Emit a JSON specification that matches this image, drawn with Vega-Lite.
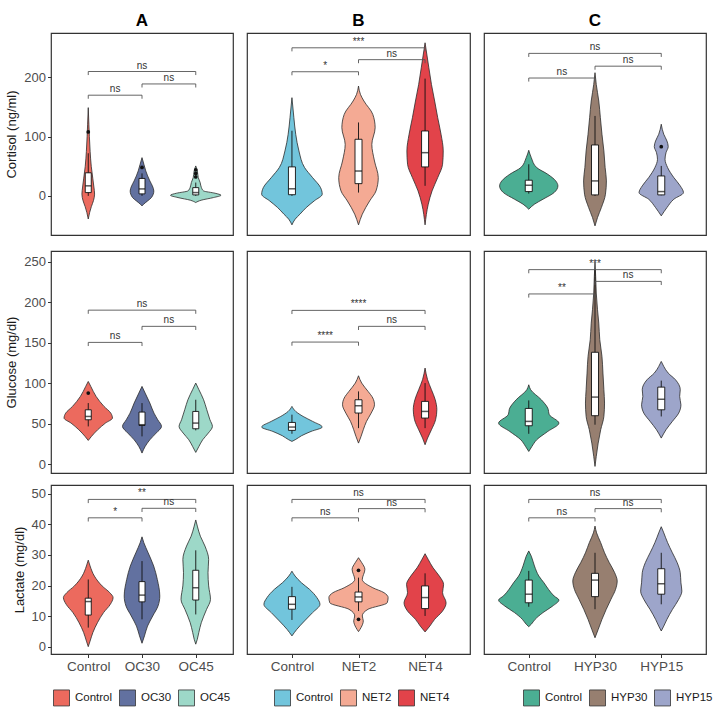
{
"$schema": "https://vega.github.io/schema/vega-lite/v6.json",
"padding": {"left": 5, "top": 11, "right": 0, "bottom": 0},
"config": {
  "font": "Liberation Sans",
  "view": {"stroke": "#333", "strokeWidth": 1.2},
  "axis": {"grid": false, "domain": false, "tickColor": "#333", "tickSize": 3.5, "labelColor": "#4d4d4d", "labelFontSize": 13, "titleFontSize": 13, "titleFontWeight": "normal", "titleColor": "#1a1a1a", "labelPadding": 2, "titlePadding": 5, "labelOverlap": false}
},
"datasets": {
  "grp": [
    {"g": "Control", "i": 1}, {"g": "OC30", "i": 2}, {"g": "OC45", "i": 3},
    {"g": "NET2", "i": 2}, {"g": "NET4", "i": 3}, {"g": "HYP30", "i": 2}, {"g": "HYP15", "i": 3}
  ],
  "vio": [
    {"p":"A1","g":"Control","v":149,"w":0},{"p":"A1","g":"Control","v":120,"w":0.012},{"p":"A1","g":"Control","v":100,"w":0.021},{"p":"A1","g":"Control","v":75,"w":0.035},{"p":"A1","g":"Control","v":50,"w":0.056},{"p":"A1","g":"Control","v":30,"w":0.084},{"p":"A1","g":"Control","v":15,"w":0.105},{"p":"A1","g":"Control","v":3,"w":0.118},{"p":"A1","g":"Control","v":-8,"w":0.097},{"p":"A1","g":"Control","v":-18,"w":0.058},{"p":"A1","g":"Control","v":-28,"w":0.026},{"p":"A1","g":"Control","v":-39,"w":0},
    {"p":"A1","g":"OC30","v":64.6,"w":0},{"p":"A1","g":"OC30","v":53.4,"w":0.035},{"p":"A1","g":"OC30","v":42.2,"w":0.07},{"p":"A1","g":"OC30","v":25.3,"w":0.146},{"p":"A1","g":"OC30","v":16.9,"w":0.193},{"p":"A1","g":"OC30","v":8.4,"w":0.22},{"p":"A1","g":"OC30","v":-2.8,"w":0.176},{"p":"A1","g":"OC30","v":-8.4,"w":0.105},{"p":"A1","g":"OC30","v":-14,"w":0.03},{"p":"A1","g":"OC30","v":-16.9,"w":0},
    {"p":"A1","g":"OC45","v":50.6,"w":0},{"p":"A1","g":"OC45","v":42,"w":0.03},{"p":"A1","g":"OC45","v":30.9,"w":0.047},{"p":"A1","g":"OC45","v":22.5,"w":0.082},{"p":"A1","g":"OC45","v":14,"w":0.105},{"p":"A1","g":"OC45","v":8.4,"w":0.146},{"p":"A1","g":"OC45","v":4.5,"w":0.36},{"p":"A1","g":"OC45","v":1.1,"w":0.47},{"p":"A1","g":"OC45","v":-2.8,"w":0.33},{"p":"A1","g":"OC45","v":-7.3,"w":0.1},{"p":"A1","g":"OC45","v":-11.2,"w":0},
    {"p":"B1","g":"Control","v":165.8,"w":0},{"p":"B1","g":"Control","v":132,"w":0.029},{"p":"B1","g":"Control","v":104,"w":0.057},{"p":"B1","g":"Control","v":75.9,"w":0.105},{"p":"B1","g":"Control","v":47.8,"w":0.19},{"p":"B1","g":"Control","v":30.9,"w":0.31},{"p":"B1","g":"Control","v":14,"w":0.43},{"p":"B1","g":"Control","v":2.8,"w":0.455},{"p":"B1","g":"Control","v":-8.4,"w":0.335},{"p":"B1","g":"Control","v":-19.7,"w":0.215},{"p":"B1","g":"Control","v":-30.9,"w":0.12},{"p":"B1","g":"Control","v":-39.3,"w":0.048},{"p":"B1","g":"Control","v":-48.9,"w":0},
    {"p":"B1","g":"NET2","v":185.5,"w":0},{"p":"B1","g":"NET2","v":171.4,"w":0.029},{"p":"B1","g":"NET2","v":160.2,"w":0.081},{"p":"B1","g":"NET2","v":137.6,"w":0.215},{"p":"B1","g":"NET2","v":115.1,"w":0.25},{"p":"B1","g":"NET2","v":87,"w":0.2},{"p":"B1","g":"NET2","v":58.9,"w":0.24},{"p":"B1","g":"NET2","v":30.9,"w":0.297},{"p":"B1","g":"NET2","v":8.4,"w":0.263},{"p":"B1","g":"NET2","v":-8.4,"w":0.168},{"p":"B1","g":"NET2","v":-30.9,"w":0.057},{"p":"B1","g":"NET2","v":-48.9,"w":0},
    {"p":"B1","g":"NET4","v":258.5,"w":0},{"p":"B1","g":"NET4","v":216.3,"w":0.057},{"p":"B1","g":"NET4","v":188.2,"w":0.096},{"p":"B1","g":"NET4","v":160.2,"w":0.144},{"p":"B1","g":"NET4","v":132,"w":0.19},{"p":"B1","g":"NET4","v":104,"w":0.24},{"p":"B1","g":"NET4","v":75.9,"w":0.273},{"p":"B1","g":"NET4","v":53.4,"w":0.263},{"p":"B1","g":"NET4","v":30.9,"w":0.19},{"p":"B1","g":"NET4","v":8.4,"w":0.105},{"p":"B1","g":"NET4","v":-14,"w":0.048},{"p":"B1","g":"NET4","v":-48.9,"w":0},
    {"p":"C1","g":"Control","v":77,"w":0},{"p":"C1","g":"Control","v":64.6,"w":0.038},{"p":"C1","g":"Control","v":47.8,"w":0.12},{"p":"C1","g":"Control","v":36.5,"w":0.287},{"p":"C1","g":"Control","v":25.3,"w":0.407},{"p":"C1","g":"Control","v":16.9,"w":0.44},{"p":"C1","g":"Control","v":5.6,"w":0.383},{"p":"C1","g":"Control","v":-5.6,"w":0.215},{"p":"C1","g":"Control","v":-14,"w":0.086},{"p":"C1","g":"Control","v":-22.5,"w":0},
    {"p":"C1","g":"HYP30","v":208,"w":0},{"p":"C1","g":"HYP30","v":188.2,"w":0.019},{"p":"C1","g":"HYP30","v":160.2,"w":0.057},{"p":"C1","g":"HYP30","v":132,"w":0.081},{"p":"C1","g":"HYP30","v":104,"w":0.105},{"p":"C1","g":"HYP30","v":75.9,"w":0.134},{"p":"C1","g":"HYP30","v":47.8,"w":0.153},{"p":"C1","g":"HYP30","v":25.3,"w":0.172},{"p":"C1","g":"HYP30","v":2.8,"w":0.158},{"p":"C1","g":"HYP30","v":-19.7,"w":0.096},{"p":"C1","g":"HYP30","v":-36.5,"w":0.038},{"p":"C1","g":"HYP30","v":-50.6,"w":0},
    {"p":"C1","g":"HYP15","v":121,"w":0},{"p":"C1","g":"HYP15","v":104,"w":0.038},{"p":"C1","g":"HYP15","v":92.7,"w":0.086},{"p":"C1","g":"HYP15","v":83.2,"w":0.105},{"p":"C1","g":"HYP15","v":73,"w":0.072},{"p":"C1","g":"HYP15","v":61.8,"w":0.057},{"p":"C1","g":"HYP15","v":47.8,"w":0.096},{"p":"C1","g":"HYP15","v":30.9,"w":0.19},{"p":"C1","g":"HYP15","v":16.9,"w":0.287},{"p":"C1","g":"HYP15","v":5.6,"w":0.335},{"p":"C1","g":"HYP15","v":-5.6,"w":0.19},{"p":"C1","g":"HYP15","v":-19.7,"w":0.086},{"p":"C1","g":"HYP15","v":-33.7,"w":0},
    {"p":"A2","g":"Control","v":102,"w":0},{"p":"A2","g":"Control","v":95.9,"w":0.047},{"p":"A2","g":"Control","v":83.5,"w":0.146},{"p":"A2","g":"Control","v":71.2,"w":0.293},{"p":"A2","g":"Control","v":62.9,"w":0.42},{"p":"A2","g":"Control","v":56.8,"w":0.45},{"p":"A2","g":"Control","v":50.6,"w":0.32},{"p":"A2","g":"Control","v":42.4,"w":0.176},{"p":"A2","g":"Control","v":34.1,"w":0.059},{"p":"A2","g":"Control","v":29.2,"w":0},
    {"p":"A2","g":"OC30","v":95.9,"w":0},{"p":"A2","g":"OC30","v":87.6,"w":0.059},{"p":"A2","g":"OC30","v":75.3,"w":0.146},{"p":"A2","g":"OC30","v":62.9,"w":0.223},{"p":"A2","g":"OC30","v":54.7,"w":0.293},{"p":"A2","g":"OC30","v":46.5,"w":0.363},{"p":"A2","g":"OC30","v":38.3,"w":0.264},{"p":"A2","g":"OC30","v":30,"w":0.146},{"p":"A2","g":"OC30","v":21.8,"w":0.059},{"p":"A2","g":"OC30","v":13.6,"w":0},
    {"p":"A2","g":"OC45","v":100,"w":0},{"p":"A2","g":"OC45","v":91.8,"w":0.059},{"p":"A2","g":"OC45","v":79.4,"w":0.146},{"p":"A2","g":"OC45","v":67.1,"w":0.205},{"p":"A2","g":"OC45","v":54.7,"w":0.264},{"p":"A2","g":"OC45","v":46.5,"w":0.31},{"p":"A2","g":"OC45","v":38.3,"w":0.234},{"p":"A2","g":"OC45","v":30,"w":0.129},{"p":"A2","g":"OC45","v":21.8,"w":0.059},{"p":"A2","g":"OC45","v":14.4,"w":0},
    {"p":"B2","g":"Control","v":71.2,"w":0},{"p":"B2","g":"Control","v":65,"w":0.057},{"p":"B2","g":"Control","v":58.8,"w":0.168},{"p":"B2","g":"Control","v":52.7,"w":0.311},{"p":"B2","g":"Control","v":45.7,"w":0.455},{"p":"B2","g":"Control","v":40.3,"w":0.287},{"p":"B2","g":"Control","v":35,"w":0.144},{"p":"B2","g":"Control","v":30,"w":0.048},{"p":"B2","g":"Control","v":28,"w":0},
    {"p":"B2","g":"NET2","v":109,"w":0},{"p":"B2","g":"NET2","v":100,"w":0.048},{"p":"B2","g":"NET2","v":89.7,"w":0.144},{"p":"B2","g":"NET2","v":81.5,"w":0.215},{"p":"B2","g":"NET2","v":73.2,"w":0.24},{"p":"B2","g":"NET2","v":62.9,"w":0.19},{"p":"B2","g":"NET2","v":52.7,"w":0.12},{"p":"B2","g":"NET2","v":42.4,"w":0.072},{"p":"B2","g":"NET2","v":34.1,"w":0.038},{"p":"B2","g":"NET2","v":25.9,"w":0},
    {"p":"B2","g":"NET4","v":118.5,"w":0},{"p":"B2","g":"NET4","v":104.1,"w":0.038},{"p":"B2","g":"NET4","v":91.8,"w":0.096},{"p":"B2","g":"NET4","v":79.4,"w":0.153},{"p":"B2","g":"NET4","v":67.1,"w":0.177},{"p":"B2","g":"NET4","v":54.7,"w":0.158},{"p":"B2","g":"NET4","v":42.4,"w":0.096},{"p":"B2","g":"NET4","v":32.1,"w":0.038},{"p":"B2","g":"NET4","v":23.9,"w":0},
    {"p":"C2","g":"Control","v":97.9,"w":0},{"p":"C2","g":"Control","v":91.8,"w":0.029},{"p":"C2","g":"Control","v":79.4,"w":0.19},{"p":"C2","g":"Control","v":69.1,"w":0.287},{"p":"C2","g":"Control","v":60.9,"w":0.311},{"p":"C2","g":"Control","v":50.6,"w":0.455},{"p":"C2","g":"Control","v":40.3,"w":0.287},{"p":"C2","g":"Control","v":30,"w":0.12},{"p":"C2","g":"Control","v":21.8,"w":0.048},{"p":"C2","g":"Control","v":15.6,"w":0},
    {"p":"C2","g":"HYP30","v":249,"w":0},{"p":"C2","g":"HYP30","v":231.7,"w":0.01},{"p":"C2","g":"HYP30","v":211.1,"w":0.019},{"p":"C2","g":"HYP30","v":190.5,"w":0.038},{"p":"C2","g":"HYP30","v":174,"w":0.057},{"p":"C2","g":"HYP30","v":153.5,"w":0.072},{"p":"C2","g":"HYP30","v":132.9,"w":0.105},{"p":"C2","g":"HYP30","v":112.3,"w":0.12},{"p":"C2","g":"HYP30","v":91.8,"w":0.134},{"p":"C2","g":"HYP30","v":75.3,"w":0.144},{"p":"C2","g":"HYP30","v":58.8,"w":0.134},{"p":"C2","g":"HYP30","v":42.4,"w":0.086},{"p":"C2","g":"HYP30","v":25.9,"w":0.048},{"p":"C2","g":"HYP30","v":9.5,"w":0.019},{"p":"C2","g":"HYP30","v":-2.9,"w":0},
    {"p":"C2","g":"HYP15","v":126.7,"w":0},{"p":"C2","g":"HYP15","v":120.5,"w":0.038},{"p":"C2","g":"HYP15","v":112.3,"w":0.105},{"p":"C2","g":"HYP15","v":104.1,"w":0.215},{"p":"C2","g":"HYP15","v":91.8,"w":0.287},{"p":"C2","g":"HYP15","v":83.5,"w":0.278},{"p":"C2","g":"HYP15","v":73.2,"w":0.297},{"p":"C2","g":"HYP15","v":62.9,"w":0.263},{"p":"C2","g":"HYP15","v":52.7,"w":0.168},{"p":"C2","g":"HYP15","v":42.4,"w":0.072},{"p":"C2","g":"HYP15","v":32.1,"w":0},
    {"p":"A3","g":"Control","v":28.3,"w":0},{"p":"A3","g":"Control","v":26.4,"w":0.034},{"p":"A3","g":"Control","v":23.1,"w":0.114},{"p":"A3","g":"Control","v":19.9,"w":0.257},{"p":"A3","g":"Control","v":17.7,"w":0.4},{"p":"A3","g":"Control","v":16.1,"w":0.462},{"p":"A3","g":"Control","v":13.9,"w":0.411},{"p":"A3","g":"Control","v":11.2,"w":0.285},{"p":"A3","g":"Control","v":7.9,"w":0.171},{"p":"A3","g":"Control","v":4.7,"w":0.086},{"p":"A3","g":"Control","v":1.9,"w":0.034},{"p":"A3","g":"Control","v":0.1,"w":0},
    {"p":"A3","g":"OC30","v":35.9,"w":0},{"p":"A3","g":"OC30","v":34,"w":0.034},{"p":"A3","g":"OC30","v":30.7,"w":0.114},{"p":"A3","g":"OC30","v":26.4,"w":0.217},{"p":"A3","g":"OC30","v":22,"w":0.285},{"p":"A3","g":"OC30","v":16.6,"w":0.331},{"p":"A3","g":"OC30","v":13.3,"w":0.297},{"p":"A3","g":"OC30","v":10.1,"w":0.2},{"p":"A3","g":"OC30","v":6.8,"w":0.103},{"p":"A3","g":"OC30","v":3.6,"w":0.046},{"p":"A3","g":"OC30","v":1.2,"w":0},
    {"p":"A3","g":"OC45","v":41.4,"w":0},{"p":"A3","g":"OC45","v":39.4,"w":0.029},{"p":"A3","g":"OC45","v":36.1,"w":0.086},{"p":"A3","g":"OC45","v":32.9,"w":0.171},{"p":"A3","g":"OC45","v":28.5,"w":0.24},{"p":"A3","g":"OC45","v":24.2,"w":0.228},{"p":"A3","g":"OC45","v":19.9,"w":0.24},{"p":"A3","g":"OC45","v":15.5,"w":0.274},{"p":"A3","g":"OC45","v":12.2,"w":0.2},{"p":"A3","g":"OC45","v":7.9,"w":0.103},{"p":"A3","g":"OC45","v":4.7,"w":0.057},{"p":"A3","g":"OC45","v":2.5,"w":0.029},{"p":"A3","g":"OC45","v":0.9,"w":0},
    {"p":"B3","g":"Control","v":24.7,"w":0},{"p":"B3","g":"Control","v":23.1,"w":0.048},{"p":"B3","g":"Control","v":20.9,"w":0.144},{"p":"B3","g":"Control","v":18.8,"w":0.263},{"p":"B3","g":"Control","v":16.1,"w":0.374},{"p":"B3","g":"Control","v":13.9,"w":0.421},{"p":"B3","g":"Control","v":11.2,"w":0.311},{"p":"B3","g":"Control","v":8.5,"w":0.19},{"p":"B3","g":"Control","v":5.7,"w":0.072},{"p":"B3","g":"Control","v":3.6,"w":0},
    {"p":"B3","g":"NET2","v":29.1,"w":0},{"p":"B3","g":"NET2","v":27.5,"w":0.048},{"p":"B3","g":"NET2","v":25.3,"w":0.096},{"p":"B3","g":"NET2","v":22,"w":0.057},{"p":"B3","g":"NET2","v":19.3,"w":0.215},{"p":"B3","g":"NET2","v":17.7,"w":0.383},{"p":"B3","g":"NET2","v":16.1,"w":0.445},{"p":"B3","g":"NET2","v":14.4,"w":0.431},{"p":"B3","g":"NET2","v":12.3,"w":0.144},{"p":"B3","g":"NET2","v":10.1,"w":0.057},{"p":"B3","g":"NET2","v":8.5,"w":0.072},{"p":"B3","g":"NET2","v":6.3,"w":0.038},{"p":"B3","g":"NET2","v":5,"w":0},
    {"p":"B3","g":"NET4","v":30.4,"w":0},{"p":"B3","g":"NET4","v":28.5,"w":0.048},{"p":"B3","g":"NET4","v":25.8,"w":0.12},{"p":"B3","g":"NET4","v":23.1,"w":0.215},{"p":"B3","g":"NET4","v":20.4,"w":0.278},{"p":"B3","g":"NET4","v":17.7,"w":0.263},{"p":"B3","g":"NET4","v":14.4,"w":0.316},{"p":"B3","g":"NET4","v":11.7,"w":0.263},{"p":"B3","g":"NET4","v":9,"w":0.144},{"p":"B3","g":"NET4","v":6.8,"w":0.072},{"p":"B3","g":"NET4","v":4.9,"w":0},
    {"p":"C3","g":"Control","v":31.3,"w":0},{"p":"C3","g":"Control","v":29.6,"w":0.038},{"p":"C3","g":"Control","v":26.4,"w":0.086},{"p":"C3","g":"Control","v":23.1,"w":0.153},{"p":"C3","g":"Control","v":20.9,"w":0.23},{"p":"C3","g":"Control","v":18.8,"w":0.297},{"p":"C3","g":"Control","v":16.6,"w":0.383},{"p":"C3","g":"Control","v":15.3,"w":0.455},{"p":"C3","g":"Control","v":13.3,"w":0.359},{"p":"C3","g":"Control","v":11.2,"w":0.215},{"p":"C3","g":"Control","v":9,"w":0.096},{"p":"C3","g":"Control","v":7.4,"w":0.038},{"p":"C3","g":"Control","v":6.6,"w":0},
    {"p":"C3","g":"HYP30","v":39.4,"w":0},{"p":"C3","g":"HYP30","v":37.2,"w":0.024},{"p":"C3","g":"HYP30","v":34,"w":0.086},{"p":"C3","g":"HYP30","v":30.7,"w":0.144},{"p":"C3","g":"HYP30","v":27.5,"w":0.215},{"p":"C3","g":"HYP30","v":24.2,"w":0.297},{"p":"C3","g":"HYP30","v":21.5,"w":0.335},{"p":"C3","g":"HYP30","v":18.8,"w":0.311},{"p":"C3","g":"HYP30","v":15.5,"w":0.24},{"p":"C3","g":"HYP30","v":12.2,"w":0.168},{"p":"C3","g":"HYP30","v":9,"w":0.105},{"p":"C3","g":"HYP30","v":5.7,"w":0.048},{"p":"C3","g":"HYP30","v":3,"w":0},
    {"p":"C3","g":"HYP15","v":39.2,"w":0},{"p":"C3","g":"HYP15","v":37.2,"w":0.038},{"p":"C3","g":"HYP15","v":34,"w":0.096},{"p":"C3","g":"HYP15","v":30.7,"w":0.168},{"p":"C3","g":"HYP15","v":27.5,"w":0.24},{"p":"C3","g":"HYP15","v":24.2,"w":0.287},{"p":"C3","g":"HYP15","v":20.9,"w":0.297},{"p":"C3","g":"HYP15","v":18.2,"w":0.311},{"p":"C3","g":"HYP15","v":15.5,"w":0.263},{"p":"C3","g":"HYP15","v":12.2,"w":0.168},{"p":"C3","g":"HYP15","v":9,"w":0.086},{"p":"C3","g":"HYP15","v":6.8,"w":0.038},{"p":"C3","g":"HYP15","v":5.2,"w":0}
  ],
  "box": [
    {"p":"A1","g":"Control","lo":0,"q1":5.6,"md":17,"q3":39,"hi":72},
    {"p":"A1","g":"OC30","lo":0,"q1":3.4,"md":11.8,"q3":29.5,"hi":38},
    {"p":"A1","g":"OC45","lo":0,"q1":1.7,"md":5.6,"q3":14,"hi":22.5},
    {"p":"B1","g":"Control","lo":0,"q1":2,"md":12,"q3":49,"hi":110},
    {"p":"B1","g":"NET2","lo":5.6,"q1":20.7,"md":42,"q3":95.6,"hi":124},
    {"p":"B1","g":"NET4","lo":17,"q1":48.9,"md":73,"q3":109.6,"hi":198},
    {"p":"C1","g":"Control","lo":3.9,"q1":7.3,"md":18,"q3":26.5,"hi":53.4},
    {"p":"C1","g":"HYP30","lo":0,"q1":1.7,"md":25.3,"q3":86,"hi":135},
    {"p":"C1","g":"HYP15","lo":1,"q1":1.7,"md":7.3,"q3":33.7,"hi":50.6},
    {"p":"A2","g":"Control","lo":46.5,"q1":54.7,"md":58.8,"q3":67,"hi":75.3},
    {"p":"A2","g":"OC30","lo":34.2,"q1":47.7,"md":48.6,"q3":64.2,"hi":75.3},
    {"p":"A2","g":"OC45","lo":41.6,"q1":43.6,"md":50.6,"q3":65,"hi":79.4},
    {"p":"B2","g":"Control","lo":37.4,"q1":41.6,"md":45.7,"q3":51.4,"hi":61},
    {"p":"B2","g":"NET2","lo":44.4,"q1":63,"md":72,"q3":79.4,"hi":89.7},
    {"p":"B2","g":"NET4","lo":44.4,"q1":56.8,"md":65,"q3":77.4,"hi":100},
    {"p":"C2","g":"Control","lo":37.4,"q1":47.3,"md":52.7,"q3":68.7,"hi":78.6},
    {"p":"C2","g":"HYP30","lo":48.6,"q1":59.7,"md":82.7,"q3":138,"hi":240},
    {"p":"C2","g":"HYP15","lo":58.8,"q1":67,"md":80,"q3":95,"hi":103},
    {"p":"A3","g":"Control","lo":6.3,"q1":10.4,"md":14.8,"q3":15.9,"hi":22},
    {"p":"A3","g":"OC30","lo":9,"q1":14.7,"md":16.9,"q3":21.3,"hi":28},
    {"p":"A3","g":"OC45","lo":10.6,"q1":15.3,"md":19.3,"q3":25,"hi":31.5},
    {"p":"B3","g":"Control","lo":8.8,"q1":12.3,"md":13.9,"q3":16.4,"hi":19.6},
    {"p":"B3","g":"NET2","lo":11.7,"q1":14.7,"md":16.3,"q3":17.9,"hi":22.6},
    {"p":"B3","g":"NET4","lo":10.1,"q1":12.5,"md":16.1,"q3":19.9,"hi":24},
    {"p":"C3","g":"Control","lo":13.1,"q1":14.4,"md":17.2,"q3":21.8,"hi":24.8},
    {"p":"C3","g":"HYP30","lo":12.3,"q1":16.4,"md":21.8,"q3":24,"hi":30.7},
    {"p":"C3","g":"HYP15","lo":13.9,"q1":17.2,"md":20.6,"q3":25.5,"hi":30.7}
  ],
  "out": [
    {"p":"A1","g":"Control","v":108},
    {"p":"A1","g":"OC30","v":48},
    {"p":"A1","g":"OC45","v":44},{"p":"A1","g":"OC45","v":38},{"p":"A1","g":"OC45","v":32},
    {"p":"C1","g":"HYP15","v":83},
    {"p":"A2","g":"Control","v":87.6},
    {"p":"B3","g":"NET2","v":25},{"p":"B3","g":"NET2","v":9}
  ],
  "sig": [
    {"p":"A1","a":"Control","b":"OC45","y":210,"t":204,"s":"ns"},
    {"p":"A1","a":"OC30","b":"OC45","y":189,"t":183,"s":"ns"},
    {"p":"A1","a":"Control","b":"OC30","y":170,"t":164,"s":"ns"},
    {"p":"B1","a":"Control","b":"NET4","y":250,"t":244,"s":"***"},
    {"p":"B1","a":"NET2","b":"NET4","y":230,"t":224,"s":"ns"},
    {"p":"B1","a":"Control","b":"NET2","y":209.6,"t":203.6,"s":"*"},
    {"p":"C1","a":"Control","b":"HYP15","y":240.6,"t":234.6,"s":"ns"},
    {"p":"C1","a":"HYP30","b":"HYP15","y":219,"t":213,"s":"ns"},
    {"p":"C1","a":"Control","b":"HYP30","y":199,"t":193,"s":"ns"},
    {"p":"A2","a":"Control","b":"OC45","y":190,"t":185.5,"s":"ns"},
    {"p":"A2","a":"OC30","b":"OC45","y":170,"t":165.5,"s":"ns"},
    {"p":"A2","a":"Control","b":"OC30","y":150.2,"t":145.7,"s":"ns"},
    {"p":"B2","a":"Control","b":"NET4","y":189.7,"t":185.2,"s":"****"},
    {"p":"B2","a":"NET2","b":"NET4","y":170,"t":165.5,"s":"ns"},
    {"p":"B2","a":"Control","b":"NET2","y":150.6,"t":146.1,"s":"****"},
    {"p":"C2","a":"Control","b":"HYP15","y":240,"t":235.5,"s":"***"},
    {"p":"C2","a":"HYP30","b":"HYP15","y":225.5,"t":221,"s":"ns"},
    {"p":"C2","a":"Control","b":"HYP30","y":210,"t":205.5,"s":"**"},
    {"p":"A3","a":"Control","b":"OC45","y":48.1,"t":46.9,"s":"**"},
    {"p":"A3","a":"OC30","b":"OC45","y":45.2,"t":44,"s":"ns"},
    {"p":"A3","a":"Control","b":"OC30","y":42.1,"t":40.9,"s":"*"},
    {"p":"B3","a":"Control","b":"NET4","y":48.1,"t":46.9,"s":"ns"},
    {"p":"B3","a":"NET2","b":"NET4","y":45.1,"t":43.9,"s":"ns"},
    {"p":"B3","a":"Control","b":"NET2","y":42.1,"t":40.9,"s":"ns"},
    {"p":"C3","a":"Control","b":"HYP15","y":48.1,"t":46.9,"s":"ns"},
    {"p":"C3","a":"HYP30","b":"HYP15","y":45.1,"t":43.9,"s":"ns"},
    {"p":"C3","a":"Control","b":"HYP30","y":42.1,"t":40.9,"s":"ns"}
  ]
},
"resolve": {"scale": {"x": "independent", "y": "independent", "color": "independent"}, "axis": {"x": "independent", "y": "independent"}, "legend": {"color": "independent"}},
"spacing": 10,
"vconcat": [
{
"spacing": 14,
"resolve": {"scale": {"x": "independent", "y": "independent", "color": "independent"}, "axis": {"x": "independent", "y": "independent"}, "legend": {"color": "independent"}},
"vconcat": [
{
"spacing": 12,
"resolve": {"scale": {"x": "independent", "y": "independent", "color": "independent"}, "axis": {"x": "independent", "y": "independent"}, "legend": {"color": "independent"}},
"hconcat": [
{
"width": 182, "height": 202,
"title": {"text": "A", "fontSize": 17, "fontWeight": "bold", "color": "#000", "offset": 3},
"layer": [
 {"data": {"name": "vio"}, "transform": [{"filter": "datum.p=='A1'"}, {"lookup": "g", "from": {"data": {"name": "grp"}, "key": "g", "fields": ["i"]}}, {"calculate": "datum.i-datum.w", "as": "lo"}, {"calculate": "datum.i+datum.w", "as": "hi"}],
  "mark": {"type": "area", "orient": "horizontal", "interpolate": "monotone", "stroke": "#2b2b2b", "strokeWidth": 0.8, "opacity": 1},
  "encoding": {
   "y": {"field": "v", "type": "quantitative", "scale": {"domain": [-66, 275], "nice": false, "zero": false}, "axis": {"values": [0, 100, 200], "tickCount": 12, "title": "Cortisol (ng/ml)"}},
   "x": {"field": "lo", "type": "quantitative", "scale": {"domain": [0.4, 3.6], "nice": false, "zero": false}, "axis": null},
   "x2": {"field": "hi"},
   "color": {"field": "g", "type": "nominal", "scale": {"domain": ["Control", "OC30", "OC45"], "range": ["#EC6A5E", "#6271A0", "#9DD8C8"]}, "legend": null}}},
 {"data": {"name": "box"}, "transform": [{"filter": "datum.p=='A1'"}, {"lookup": "g", "from": {"data": {"name": "grp"}, "key": "g", "fields": ["i"]}}],
  "encoding": {"x": {"field": "i", "type": "quantitative"}},
  "layer": [
   {"mark": {"type": "rule", "color": "#111", "strokeWidth": 0.9}, "encoding": {"y": {"field": "lo", "type": "quantitative"}, "y2": {"field": "hi"}}},
   {"mark": {"type": "bar", "orient": "vertical", "size": 6, "fill": "#fff", "stroke": "#111", "strokeWidth": 0.9}, "encoding": {"y": {"field": "q1", "type": "quantitative"}, "y2": {"field": "q3"}}},
   {"mark": {"type": "tick", "orient": "horizontal", "size": 6, "thickness": 1.5, "color": "#111"}, "encoding": {"y": {"field": "md", "type": "quantitative"}}}
  ]},
 {"data": {"name": "out"}, "transform": [{"filter": "datum.p=='A1'"}, {"lookup": "g", "from": {"data": {"name": "grp"}, "key": "g", "fields": ["i"]}}],
  "mark": {"type": "circle", "size": 14, "color": "#111", "opacity": 1},
  "encoding": {"x": {"field": "i", "type": "quantitative"}, "y": {"field": "v", "type": "quantitative"}}},
 {"data": {"name": "sig"}, "transform": [{"filter": "datum.p=='A1'"}, {"lookup": "a", "from": {"data": {"name": "grp"}, "key": "g", "fields": ["i"]}, "as": ["ia"]}, {"lookup": "b", "from": {"data": {"name": "grp"}, "key": "g", "fields": ["i"]}, "as": ["ib"]}, {"calculate": "(datum.ia+datum.ib)/2", "as": "mid"}],
  "encoding": {"y": {"field": "y", "type": "quantitative"}},
  "layer": [
   {"mark": {"type": "rule", "color": "#555", "strokeWidth": 0.9}, "encoding": {"x": {"field": "ia", "type": "quantitative"}, "x2": {"field": "ib"}}},
   {"mark": {"type": "rule", "color": "#555", "strokeWidth": 0.9}, "encoding": {"x": {"field": "ia", "type": "quantitative"}, "y2": {"field": "t"}}},
   {"mark": {"type": "rule", "color": "#555", "strokeWidth": 0.9}, "encoding": {"x": {"field": "ib", "type": "quantitative"}, "y2": {"field": "t"}}},
   {"mark": {"type": "text", "fontSize": 10, "fill": "#333", "baseline": "alphabetic", "dy": -3}, "encoding": {"x": {"field": "mid", "type": "quantitative"}, "text": {"field": "s"}}}
  ]}
]
},
{
"width": 223, "height": 202,
"title": {"text": "B", "fontSize": 17, "fontWeight": "bold", "color": "#000", "offset": 3},
"layer": [
 {"data": {"name": "vio"}, "transform": [{"filter": "datum.p=='B1'"}, {"lookup": "g", "from": {"data": {"name": "grp"}, "key": "g", "fields": ["i"]}}, {"calculate": "datum.i-datum.w", "as": "lo"}, {"calculate": "datum.i+datum.w", "as": "hi"}],
  "mark": {"type": "area", "orient": "horizontal", "interpolate": "monotone", "stroke": "#2b2b2b", "strokeWidth": 0.8, "opacity": 1},
  "encoding": {
   "y": {"field": "v", "type": "quantitative", "scale": {"domain": [-66, 275], "nice": false, "zero": false}, "axis": null},
   "x": {"field": "lo", "type": "quantitative", "scale": {"domain": [0.4, 3.6], "nice": false, "zero": false}, "axis": null},
   "x2": {"field": "hi"},
   "color": {"field": "g", "type": "nominal", "scale": {"domain": ["Control", "NET2", "NET4"], "range": ["#72C5DC", "#F4AA94", "#E2434A"]}, "legend": null}}},
 {"data": {"name": "box"}, "transform": [{"filter": "datum.p=='B1'"}, {"lookup": "g", "from": {"data": {"name": "grp"}, "key": "g", "fields": ["i"]}}],
  "encoding": {"x": {"field": "i", "type": "quantitative"}},
  "layer": [
   {"mark": {"type": "rule", "color": "#111", "strokeWidth": 0.9}, "encoding": {"y": {"field": "lo", "type": "quantitative"}, "y2": {"field": "hi"}}},
   {"mark": {"type": "bar", "orient": "vertical", "size": 7, "fill": "#fff", "stroke": "#111", "strokeWidth": 0.9}, "encoding": {"y": {"field": "q1", "type": "quantitative"}, "y2": {"field": "q3"}}},
   {"mark": {"type": "tick", "orient": "horizontal", "size": 7, "thickness": 1.5, "color": "#111"}, "encoding": {"y": {"field": "md", "type": "quantitative"}}}
  ]},
 {"data": {"name": "out"}, "transform": [{"filter": "datum.p=='B1'"}, {"lookup": "g", "from": {"data": {"name": "grp"}, "key": "g", "fields": ["i"]}}],
  "mark": {"type": "circle", "size": 14, "color": "#111", "opacity": 1},
  "encoding": {"x": {"field": "i", "type": "quantitative"}, "y": {"field": "v", "type": "quantitative"}}},
 {"data": {"name": "sig"}, "transform": [{"filter": "datum.p=='B1'"}, {"lookup": "a", "from": {"data": {"name": "grp"}, "key": "g", "fields": ["i"]}, "as": ["ia"]}, {"lookup": "b", "from": {"data": {"name": "grp"}, "key": "g", "fields": ["i"]}, "as": ["ib"]}, {"calculate": "(datum.ia+datum.ib)/2", "as": "mid"}],
  "encoding": {"y": {"field": "y", "type": "quantitative"}},
  "layer": [
   {"mark": {"type": "rule", "color": "#555", "strokeWidth": 0.9}, "encoding": {"x": {"field": "ia", "type": "quantitative"}, "x2": {"field": "ib"}}},
   {"mark": {"type": "rule", "color": "#555", "strokeWidth": 0.9}, "encoding": {"x": {"field": "ia", "type": "quantitative"}, "y2": {"field": "t"}}},
   {"mark": {"type": "rule", "color": "#555", "strokeWidth": 0.9}, "encoding": {"x": {"field": "ib", "type": "quantitative"}, "y2": {"field": "t"}}},
   {"mark": {"type": "text", "fontSize": 10, "fill": "#333", "baseline": "alphabetic", "dy": -3}, "encoding": {"x": {"field": "mid", "type": "quantitative"}, "text": {"field": "s"}}}
  ]}
]
},
{
"width": 222, "height": 202,
"title": {"text": "C", "fontSize": 17, "fontWeight": "bold", "color": "#000", "offset": 3},
"layer": [
 {"data": {"name": "vio"}, "transform": [{"filter": "datum.p=='C1'"}, {"lookup": "g", "from": {"data": {"name": "grp"}, "key": "g", "fields": ["i"]}}, {"calculate": "datum.i-datum.w", "as": "lo"}, {"calculate": "datum.i+datum.w", "as": "hi"}],
  "mark": {"type": "area", "orient": "horizontal", "interpolate": "monotone", "stroke": "#2b2b2b", "strokeWidth": 0.8, "opacity": 1},
  "encoding": {
   "y": {"field": "v", "type": "quantitative", "scale": {"domain": [-66, 275], "nice": false, "zero": false}, "axis": null},
   "x": {"field": "lo", "type": "quantitative", "scale": {"domain": [0.4, 3.6], "nice": false, "zero": false}, "axis": null},
   "x2": {"field": "hi"},
   "color": {"field": "g", "type": "nominal", "scale": {"domain": ["Control", "HYP30", "HYP15"], "range": ["#4BAE93", "#977F70", "#9DA5CA"]}, "legend": null}}},
 {"data": {"name": "box"}, "transform": [{"filter": "datum.p=='C1'"}, {"lookup": "g", "from": {"data": {"name": "grp"}, "key": "g", "fields": ["i"]}}],
  "encoding": {"x": {"field": "i", "type": "quantitative"}},
  "layer": [
   {"mark": {"type": "rule", "color": "#111", "strokeWidth": 0.9}, "encoding": {"y": {"field": "lo", "type": "quantitative"}, "y2": {"field": "hi"}}},
   {"mark": {"type": "bar", "orient": "vertical", "size": 7, "fill": "#fff", "stroke": "#111", "strokeWidth": 0.9}, "encoding": {"y": {"field": "q1", "type": "quantitative"}, "y2": {"field": "q3"}}},
   {"mark": {"type": "tick", "orient": "horizontal", "size": 7, "thickness": 1.5, "color": "#111"}, "encoding": {"y": {"field": "md", "type": "quantitative"}}}
  ]},
 {"data": {"name": "out"}, "transform": [{"filter": "datum.p=='C1'"}, {"lookup": "g", "from": {"data": {"name": "grp"}, "key": "g", "fields": ["i"]}}],
  "mark": {"type": "circle", "size": 14, "color": "#111", "opacity": 1},
  "encoding": {"x": {"field": "i", "type": "quantitative"}, "y": {"field": "v", "type": "quantitative"}}},
 {"data": {"name": "sig"}, "transform": [{"filter": "datum.p=='C1'"}, {"lookup": "a", "from": {"data": {"name": "grp"}, "key": "g", "fields": ["i"]}, "as": ["ia"]}, {"lookup": "b", "from": {"data": {"name": "grp"}, "key": "g", "fields": ["i"]}, "as": ["ib"]}, {"calculate": "(datum.ia+datum.ib)/2", "as": "mid"}],
  "encoding": {"y": {"field": "y", "type": "quantitative"}},
  "layer": [
   {"mark": {"type": "rule", "color": "#555", "strokeWidth": 0.9}, "encoding": {"x": {"field": "ia", "type": "quantitative"}, "x2": {"field": "ib"}}},
   {"mark": {"type": "rule", "color": "#555", "strokeWidth": 0.9}, "encoding": {"x": {"field": "ia", "type": "quantitative"}, "y2": {"field": "t"}}},
   {"mark": {"type": "rule", "color": "#555", "strokeWidth": 0.9}, "encoding": {"x": {"field": "ib", "type": "quantitative"}, "y2": {"field": "t"}}},
   {"mark": {"type": "text", "fontSize": 10, "fill": "#333", "baseline": "alphabetic", "dy": -3}, "encoding": {"x": {"field": "mid", "type": "quantitative"}, "text": {"field": "s"}}}
  ]}
]
}
]
},
{
"spacing": 12,
"resolve": {"scale": {"x": "independent", "y": "independent", "color": "independent"}, "axis": {"x": "independent", "y": "independent"}, "legend": {"color": "independent"}},
"hconcat": [
{
"width": 182, "height": 222,
"layer": [
 {"data": {"name": "vio"}, "transform": [{"filter": "datum.p=='A2'"}, {"lookup": "g", "from": {"data": {"name": "grp"}, "key": "g", "fields": ["i"]}}, {"calculate": "datum.i-datum.w", "as": "lo"}, {"calculate": "datum.i+datum.w", "as": "hi"}],
  "mark": {"type": "area", "orient": "horizontal", "interpolate": "monotone", "stroke": "#2b2b2b", "strokeWidth": 0.8, "opacity": 1},
  "encoding": {
   "y": {"field": "v", "type": "quantitative", "scale": {"domain": [-11, 263], "nice": false, "zero": false}, "axis": {"values": [0, 50, 100, 150, 200, 250], "tickCount": 12, "title": "Glucose (mg/dl)"}},
   "x": {"field": "lo", "type": "quantitative", "scale": {"domain": [0.4, 3.6], "nice": false, "zero": false}, "axis": null},
   "x2": {"field": "hi"},
   "color": {"field": "g", "type": "nominal", "scale": {"domain": ["Control", "OC30", "OC45"], "range": ["#EC6A5E", "#6271A0", "#9DD8C8"]}, "legend": null}}},
 {"data": {"name": "box"}, "transform": [{"filter": "datum.p=='A2'"}, {"lookup": "g", "from": {"data": {"name": "grp"}, "key": "g", "fields": ["i"]}}],
  "encoding": {"x": {"field": "i", "type": "quantitative"}},
  "layer": [
   {"mark": {"type": "rule", "color": "#111", "strokeWidth": 0.9}, "encoding": {"y": {"field": "lo", "type": "quantitative"}, "y2": {"field": "hi"}}},
   {"mark": {"type": "bar", "orient": "vertical", "size": 6, "fill": "#fff", "stroke": "#111", "strokeWidth": 0.9}, "encoding": {"y": {"field": "q1", "type": "quantitative"}, "y2": {"field": "q3"}}},
   {"mark": {"type": "tick", "orient": "horizontal", "size": 6, "thickness": 1.5, "color": "#111"}, "encoding": {"y": {"field": "md", "type": "quantitative"}}}
  ]},
 {"data": {"name": "out"}, "transform": [{"filter": "datum.p=='A2'"}, {"lookup": "g", "from": {"data": {"name": "grp"}, "key": "g", "fields": ["i"]}}],
  "mark": {"type": "circle", "size": 14, "color": "#111", "opacity": 1},
  "encoding": {"x": {"field": "i", "type": "quantitative"}, "y": {"field": "v", "type": "quantitative"}}},
 {"data": {"name": "sig"}, "transform": [{"filter": "datum.p=='A2'"}, {"lookup": "a", "from": {"data": {"name": "grp"}, "key": "g", "fields": ["i"]}, "as": ["ia"]}, {"lookup": "b", "from": {"data": {"name": "grp"}, "key": "g", "fields": ["i"]}, "as": ["ib"]}, {"calculate": "(datum.ia+datum.ib)/2", "as": "mid"}],
  "encoding": {"y": {"field": "y", "type": "quantitative"}},
  "layer": [
   {"mark": {"type": "rule", "color": "#555", "strokeWidth": 0.9}, "encoding": {"x": {"field": "ia", "type": "quantitative"}, "x2": {"field": "ib"}}},
   {"mark": {"type": "rule", "color": "#555", "strokeWidth": 0.9}, "encoding": {"x": {"field": "ia", "type": "quantitative"}, "y2": {"field": "t"}}},
   {"mark": {"type": "rule", "color": "#555", "strokeWidth": 0.9}, "encoding": {"x": {"field": "ib", "type": "quantitative"}, "y2": {"field": "t"}}},
   {"mark": {"type": "text", "fontSize": 10, "fill": "#333", "baseline": "alphabetic", "dy": -3}, "encoding": {"x": {"field": "mid", "type": "quantitative"}, "text": {"field": "s"}}}
  ]}
]
},
{
"width": 223, "height": 222,
"layer": [
 {"data": {"name": "vio"}, "transform": [{"filter": "datum.p=='B2'"}, {"lookup": "g", "from": {"data": {"name": "grp"}, "key": "g", "fields": ["i"]}}, {"calculate": "datum.i-datum.w", "as": "lo"}, {"calculate": "datum.i+datum.w", "as": "hi"}],
  "mark": {"type": "area", "orient": "horizontal", "interpolate": "monotone", "stroke": "#2b2b2b", "strokeWidth": 0.8, "opacity": 1},
  "encoding": {
   "y": {"field": "v", "type": "quantitative", "scale": {"domain": [-11, 263], "nice": false, "zero": false}, "axis": null},
   "x": {"field": "lo", "type": "quantitative", "scale": {"domain": [0.4, 3.6], "nice": false, "zero": false}, "axis": null},
   "x2": {"field": "hi"},
   "color": {"field": "g", "type": "nominal", "scale": {"domain": ["Control", "NET2", "NET4"], "range": ["#72C5DC", "#F4AA94", "#E2434A"]}, "legend": null}}},
 {"data": {"name": "box"}, "transform": [{"filter": "datum.p=='B2'"}, {"lookup": "g", "from": {"data": {"name": "grp"}, "key": "g", "fields": ["i"]}}],
  "encoding": {"x": {"field": "i", "type": "quantitative"}},
  "layer": [
   {"mark": {"type": "rule", "color": "#111", "strokeWidth": 0.9}, "encoding": {"y": {"field": "lo", "type": "quantitative"}, "y2": {"field": "hi"}}},
   {"mark": {"type": "bar", "orient": "vertical", "size": 7, "fill": "#fff", "stroke": "#111", "strokeWidth": 0.9}, "encoding": {"y": {"field": "q1", "type": "quantitative"}, "y2": {"field": "q3"}}},
   {"mark": {"type": "tick", "orient": "horizontal", "size": 7, "thickness": 1.5, "color": "#111"}, "encoding": {"y": {"field": "md", "type": "quantitative"}}}
  ]},
 {"data": {"name": "out"}, "transform": [{"filter": "datum.p=='B2'"}, {"lookup": "g", "from": {"data": {"name": "grp"}, "key": "g", "fields": ["i"]}}],
  "mark": {"type": "circle", "size": 14, "color": "#111", "opacity": 1},
  "encoding": {"x": {"field": "i", "type": "quantitative"}, "y": {"field": "v", "type": "quantitative"}}},
 {"data": {"name": "sig"}, "transform": [{"filter": "datum.p=='B2'"}, {"lookup": "a", "from": {"data": {"name": "grp"}, "key": "g", "fields": ["i"]}, "as": ["ia"]}, {"lookup": "b", "from": {"data": {"name": "grp"}, "key": "g", "fields": ["i"]}, "as": ["ib"]}, {"calculate": "(datum.ia+datum.ib)/2", "as": "mid"}],
  "encoding": {"y": {"field": "y", "type": "quantitative"}},
  "layer": [
   {"mark": {"type": "rule", "color": "#555", "strokeWidth": 0.9}, "encoding": {"x": {"field": "ia", "type": "quantitative"}, "x2": {"field": "ib"}}},
   {"mark": {"type": "rule", "color": "#555", "strokeWidth": 0.9}, "encoding": {"x": {"field": "ia", "type": "quantitative"}, "y2": {"field": "t"}}},
   {"mark": {"type": "rule", "color": "#555", "strokeWidth": 0.9}, "encoding": {"x": {"field": "ib", "type": "quantitative"}, "y2": {"field": "t"}}},
   {"mark": {"type": "text", "fontSize": 10, "fill": "#333", "baseline": "alphabetic", "dy": -3}, "encoding": {"x": {"field": "mid", "type": "quantitative"}, "text": {"field": "s"}}}
  ]}
]
},
{
"width": 222, "height": 222,
"layer": [
 {"data": {"name": "vio"}, "transform": [{"filter": "datum.p=='C2'"}, {"lookup": "g", "from": {"data": {"name": "grp"}, "key": "g", "fields": ["i"]}}, {"calculate": "datum.i-datum.w", "as": "lo"}, {"calculate": "datum.i+datum.w", "as": "hi"}],
  "mark": {"type": "area", "orient": "horizontal", "interpolate": "monotone", "stroke": "#2b2b2b", "strokeWidth": 0.8, "opacity": 1},
  "encoding": {
   "y": {"field": "v", "type": "quantitative", "scale": {"domain": [-11, 263], "nice": false, "zero": false}, "axis": null},
   "x": {"field": "lo", "type": "quantitative", "scale": {"domain": [0.4, 3.6], "nice": false, "zero": false}, "axis": null},
   "x2": {"field": "hi"},
   "color": {"field": "g", "type": "nominal", "scale": {"domain": ["Control", "HYP30", "HYP15"], "range": ["#4BAE93", "#977F70", "#9DA5CA"]}, "legend": null}}},
 {"data": {"name": "box"}, "transform": [{"filter": "datum.p=='C2'"}, {"lookup": "g", "from": {"data": {"name": "grp"}, "key": "g", "fields": ["i"]}}],
  "encoding": {"x": {"field": "i", "type": "quantitative"}},
  "layer": [
   {"mark": {"type": "rule", "color": "#111", "strokeWidth": 0.9}, "encoding": {"y": {"field": "lo", "type": "quantitative"}, "y2": {"field": "hi"}}},
   {"mark": {"type": "bar", "orient": "vertical", "size": 7, "fill": "#fff", "stroke": "#111", "strokeWidth": 0.9}, "encoding": {"y": {"field": "q1", "type": "quantitative"}, "y2": {"field": "q3"}}},
   {"mark": {"type": "tick", "orient": "horizontal", "size": 7, "thickness": 1.5, "color": "#111"}, "encoding": {"y": {"field": "md", "type": "quantitative"}}}
  ]},
 {"data": {"name": "out"}, "transform": [{"filter": "datum.p=='C2'"}, {"lookup": "g", "from": {"data": {"name": "grp"}, "key": "g", "fields": ["i"]}}],
  "mark": {"type": "circle", "size": 14, "color": "#111", "opacity": 1},
  "encoding": {"x": {"field": "i", "type": "quantitative"}, "y": {"field": "v", "type": "quantitative"}}},
 {"data": {"name": "sig"}, "transform": [{"filter": "datum.p=='C2'"}, {"lookup": "a", "from": {"data": {"name": "grp"}, "key": "g", "fields": ["i"]}, "as": ["ia"]}, {"lookup": "b", "from": {"data": {"name": "grp"}, "key": "g", "fields": ["i"]}, "as": ["ib"]}, {"calculate": "(datum.ia+datum.ib)/2", "as": "mid"}],
  "encoding": {"y": {"field": "y", "type": "quantitative"}},
  "layer": [
   {"mark": {"type": "rule", "color": "#555", "strokeWidth": 0.9}, "encoding": {"x": {"field": "ia", "type": "quantitative"}, "x2": {"field": "ib"}}},
   {"mark": {"type": "rule", "color": "#555", "strokeWidth": 0.9}, "encoding": {"x": {"field": "ia", "type": "quantitative"}, "y2": {"field": "t"}}},
   {"mark": {"type": "rule", "color": "#555", "strokeWidth": 0.9}, "encoding": {"x": {"field": "ib", "type": "quantitative"}, "y2": {"field": "t"}}},
   {"mark": {"type": "text", "fontSize": 10, "fill": "#333", "baseline": "alphabetic", "dy": -3}, "encoding": {"x": {"field": "mid", "type": "quantitative"}, "text": {"field": "s"}}}
  ]}
]
}
]
}
]
},
{
"spacing": 12,
"resolve": {"scale": {"x": "independent", "y": "independent", "color": "independent"}, "axis": {"x": "independent", "y": "independent"}, "legend": {"color": "independent"}},
"hconcat": [
{
"width": 182, "height": 169,
"layer": [
 {"data": {"name": "vio"}, "transform": [{"filter": "datum.p=='A3'"}, {"lookup": "g", "from": {"data": {"name": "grp"}, "key": "g", "fields": ["i"]}}, {"calculate": "datum.i-datum.w", "as": "lo"}, {"calculate": "datum.i+datum.w", "as": "hi"}],
  "mark": {"type": "area", "orient": "horizontal", "interpolate": "monotone", "stroke": "#2b2b2b", "strokeWidth": 0.8, "opacity": 1},
  "encoding": {
   "y": {"field": "v", "type": "quantitative", "scale": {"domain": [-2.3, 52.8], "nice": false, "zero": false}, "axis": {"values": [0, 10, 20, 30, 40, 50], "tickCount": 12, "title": "Lactate (mg/dl)"}},
   "x": {"field": "lo", "type": "quantitative", "scale": {"domain": [0.4, 3.6], "nice": false, "zero": false}, "axis": {"values": [1, 2, 3], "tickCount": 6, "title": null, "labelFontSize": 13.5, "labelExpr": "datum.value==1?'Control':datum.value==2?'OC30':'OC45'"}},
   "x2": {"field": "hi"},
   "color": {"field": "g", "type": "nominal", "scale": {"domain": ["Control", "OC30", "OC45"], "range": ["#EC6A5E", "#6271A0", "#9DD8C8"]}, "legend": {"orient": "none", "legendX": 2, "legendY": 204, "direction": "horizontal", "title": null, "symbolType": "square", "symbolSize": 256, "symbolStrokeColor": "#333", "symbolStrokeWidth": 0.8, "symbolOpacity": 1, "labelFontSize": 11.5, "labelColor": "#1a1a1a", "columnPadding": 4, "labelOffset": 5}}}},
 {"data": {"name": "box"}, "transform": [{"filter": "datum.p=='A3'"}, {"lookup": "g", "from": {"data": {"name": "grp"}, "key": "g", "fields": ["i"]}}],
  "encoding": {"x": {"field": "i", "type": "quantitative"}},
  "layer": [
   {"mark": {"type": "rule", "color": "#111", "strokeWidth": 0.9}, "encoding": {"y": {"field": "lo", "type": "quantitative"}, "y2": {"field": "hi"}}},
   {"mark": {"type": "bar", "orient": "vertical", "size": 6, "fill": "#fff", "stroke": "#111", "strokeWidth": 0.9}, "encoding": {"y": {"field": "q1", "type": "quantitative"}, "y2": {"field": "q3"}}},
   {"mark": {"type": "tick", "orient": "horizontal", "size": 6, "thickness": 1.5, "color": "#111"}, "encoding": {"y": {"field": "md", "type": "quantitative"}}}
  ]},
 {"data": {"name": "out"}, "transform": [{"filter": "datum.p=='A3'"}, {"lookup": "g", "from": {"data": {"name": "grp"}, "key": "g", "fields": ["i"]}}],
  "mark": {"type": "circle", "size": 14, "color": "#111", "opacity": 1},
  "encoding": {"x": {"field": "i", "type": "quantitative"}, "y": {"field": "v", "type": "quantitative"}}},
 {"data": {"name": "sig"}, "transform": [{"filter": "datum.p=='A3'"}, {"lookup": "a", "from": {"data": {"name": "grp"}, "key": "g", "fields": ["i"]}, "as": ["ia"]}, {"lookup": "b", "from": {"data": {"name": "grp"}, "key": "g", "fields": ["i"]}, "as": ["ib"]}, {"calculate": "(datum.ia+datum.ib)/2", "as": "mid"}],
  "encoding": {"y": {"field": "y", "type": "quantitative"}},
  "layer": [
   {"mark": {"type": "rule", "color": "#555", "strokeWidth": 0.9}, "encoding": {"x": {"field": "ia", "type": "quantitative"}, "x2": {"field": "ib"}}},
   {"mark": {"type": "rule", "color": "#555", "strokeWidth": 0.9}, "encoding": {"x": {"field": "ia", "type": "quantitative"}, "y2": {"field": "t"}}},
   {"mark": {"type": "rule", "color": "#555", "strokeWidth": 0.9}, "encoding": {"x": {"field": "ib", "type": "quantitative"}, "y2": {"field": "t"}}},
   {"mark": {"type": "text", "fontSize": 10, "fill": "#333", "baseline": "alphabetic", "dy": -3}, "encoding": {"x": {"field": "mid", "type": "quantitative"}, "text": {"field": "s"}}}
  ]}
]
},
{
"width": 223, "height": 169,
"layer": [
 {"data": {"name": "vio"}, "transform": [{"filter": "datum.p=='B3'"}, {"lookup": "g", "from": {"data": {"name": "grp"}, "key": "g", "fields": ["i"]}}, {"calculate": "datum.i-datum.w", "as": "lo"}, {"calculate": "datum.i+datum.w", "as": "hi"}],
  "mark": {"type": "area", "orient": "horizontal", "interpolate": "monotone", "stroke": "#2b2b2b", "strokeWidth": 0.8, "opacity": 1},
  "encoding": {
   "y": {"field": "v", "type": "quantitative", "scale": {"domain": [-2.3, 52.8], "nice": false, "zero": false}, "axis": null},
   "x": {"field": "lo", "type": "quantitative", "scale": {"domain": [0.4, 3.6], "nice": false, "zero": false}, "axis": {"values": [1, 2, 3], "tickCount": 6, "title": null, "labelFontSize": 13.5, "labelExpr": "datum.value==1?'Control':datum.value==2?'NET2':'NET4'"}},
   "x2": {"field": "hi"},
   "color": {"field": "g", "type": "nominal", "scale": {"domain": ["Control", "NET2", "NET4"], "range": ["#72C5DC", "#F4AA94", "#E2434A"]}, "legend": {"orient": "none", "legendX": 27, "legendY": 204, "direction": "horizontal", "title": null, "symbolType": "square", "symbolSize": 256, "symbolStrokeColor": "#333", "symbolStrokeWidth": 0.8, "symbolOpacity": 1, "labelFontSize": 11.5, "labelColor": "#1a1a1a", "columnPadding": 4, "labelOffset": 5}}}},
 {"data": {"name": "box"}, "transform": [{"filter": "datum.p=='B3'"}, {"lookup": "g", "from": {"data": {"name": "grp"}, "key": "g", "fields": ["i"]}}],
  "encoding": {"x": {"field": "i", "type": "quantitative"}},
  "layer": [
   {"mark": {"type": "rule", "color": "#111", "strokeWidth": 0.9}, "encoding": {"y": {"field": "lo", "type": "quantitative"}, "y2": {"field": "hi"}}},
   {"mark": {"type": "bar", "orient": "vertical", "size": 7, "fill": "#fff", "stroke": "#111", "strokeWidth": 0.9}, "encoding": {"y": {"field": "q1", "type": "quantitative"}, "y2": {"field": "q3"}}},
   {"mark": {"type": "tick", "orient": "horizontal", "size": 7, "thickness": 1.5, "color": "#111"}, "encoding": {"y": {"field": "md", "type": "quantitative"}}}
  ]},
 {"data": {"name": "out"}, "transform": [{"filter": "datum.p=='B3'"}, {"lookup": "g", "from": {"data": {"name": "grp"}, "key": "g", "fields": ["i"]}}],
  "mark": {"type": "circle", "size": 14, "color": "#111", "opacity": 1},
  "encoding": {"x": {"field": "i", "type": "quantitative"}, "y": {"field": "v", "type": "quantitative"}}},
 {"data": {"name": "sig"}, "transform": [{"filter": "datum.p=='B3'"}, {"lookup": "a", "from": {"data": {"name": "grp"}, "key": "g", "fields": ["i"]}, "as": ["ia"]}, {"lookup": "b", "from": {"data": {"name": "grp"}, "key": "g", "fields": ["i"]}, "as": ["ib"]}, {"calculate": "(datum.ia+datum.ib)/2", "as": "mid"}],
  "encoding": {"y": {"field": "y", "type": "quantitative"}},
  "layer": [
   {"mark": {"type": "rule", "color": "#555", "strokeWidth": 0.9}, "encoding": {"x": {"field": "ia", "type": "quantitative"}, "x2": {"field": "ib"}}},
   {"mark": {"type": "rule", "color": "#555", "strokeWidth": 0.9}, "encoding": {"x": {"field": "ia", "type": "quantitative"}, "y2": {"field": "t"}}},
   {"mark": {"type": "rule", "color": "#555", "strokeWidth": 0.9}, "encoding": {"x": {"field": "ib", "type": "quantitative"}, "y2": {"field": "t"}}},
   {"mark": {"type": "text", "fontSize": 10, "fill": "#333", "baseline": "alphabetic", "dy": -3}, "encoding": {"x": {"field": "mid", "type": "quantitative"}, "text": {"field": "s"}}}
  ]}
]
},
{
"width": 222, "height": 169,
"layer": [
 {"data": {"name": "vio"}, "transform": [{"filter": "datum.p=='C3'"}, {"lookup": "g", "from": {"data": {"name": "grp"}, "key": "g", "fields": ["i"]}}, {"calculate": "datum.i-datum.w", "as": "lo"}, {"calculate": "datum.i+datum.w", "as": "hi"}],
  "mark": {"type": "area", "orient": "horizontal", "interpolate": "monotone", "stroke": "#2b2b2b", "strokeWidth": 0.8, "opacity": 1},
  "encoding": {
   "y": {"field": "v", "type": "quantitative", "scale": {"domain": [-2.3, 52.8], "nice": false, "zero": false}, "axis": null},
   "x": {"field": "lo", "type": "quantitative", "scale": {"domain": [0.4, 3.6], "nice": false, "zero": false}, "axis": {"values": [1, 2, 3], "tickCount": 6, "title": null, "labelFontSize": 13.5, "labelExpr": "datum.value==1?'Control':datum.value==2?'HYP30':'HYP15'"}},
   "x2": {"field": "hi"},
   "color": {"field": "g", "type": "nominal", "scale": {"domain": ["Control", "HYP30", "HYP15"], "range": ["#4BAE93", "#977F70", "#9DA5CA"]}, "legend": {"orient": "none", "legendX": 39, "legendY": 204, "direction": "horizontal", "title": null, "symbolType": "square", "symbolSize": 256, "symbolStrokeColor": "#333", "symbolStrokeWidth": 0.8, "symbolOpacity": 1, "labelFontSize": 11.5, "labelColor": "#1a1a1a", "columnPadding": 4, "labelOffset": 5}}}},
 {"data": {"name": "box"}, "transform": [{"filter": "datum.p=='C3'"}, {"lookup": "g", "from": {"data": {"name": "grp"}, "key": "g", "fields": ["i"]}}],
  "encoding": {"x": {"field": "i", "type": "quantitative"}},
  "layer": [
   {"mark": {"type": "rule", "color": "#111", "strokeWidth": 0.9}, "encoding": {"y": {"field": "lo", "type": "quantitative"}, "y2": {"field": "hi"}}},
   {"mark": {"type": "bar", "orient": "vertical", "size": 7, "fill": "#fff", "stroke": "#111", "strokeWidth": 0.9}, "encoding": {"y": {"field": "q1", "type": "quantitative"}, "y2": {"field": "q3"}}},
   {"mark": {"type": "tick", "orient": "horizontal", "size": 7, "thickness": 1.5, "color": "#111"}, "encoding": {"y": {"field": "md", "type": "quantitative"}}}
  ]},
 {"data": {"name": "out"}, "transform": [{"filter": "datum.p=='C3'"}, {"lookup": "g", "from": {"data": {"name": "grp"}, "key": "g", "fields": ["i"]}}],
  "mark": {"type": "circle", "size": 14, "color": "#111", "opacity": 1},
  "encoding": {"x": {"field": "i", "type": "quantitative"}, "y": {"field": "v", "type": "quantitative"}}},
 {"data": {"name": "sig"}, "transform": [{"filter": "datum.p=='C3'"}, {"lookup": "a", "from": {"data": {"name": "grp"}, "key": "g", "fields": ["i"]}, "as": ["ia"]}, {"lookup": "b", "from": {"data": {"name": "grp"}, "key": "g", "fields": ["i"]}, "as": ["ib"]}, {"calculate": "(datum.ia+datum.ib)/2", "as": "mid"}],
  "encoding": {"y": {"field": "y", "type": "quantitative"}},
  "layer": [
   {"mark": {"type": "rule", "color": "#555", "strokeWidth": 0.9}, "encoding": {"x": {"field": "ia", "type": "quantitative"}, "x2": {"field": "ib"}}},
   {"mark": {"type": "rule", "color": "#555", "strokeWidth": 0.9}, "encoding": {"x": {"field": "ia", "type": "quantitative"}, "y2": {"field": "t"}}},
   {"mark": {"type": "rule", "color": "#555", "strokeWidth": 0.9}, "encoding": {"x": {"field": "ib", "type": "quantitative"}, "y2": {"field": "t"}}},
   {"mark": {"type": "text", "fontSize": 10, "fill": "#333", "baseline": "alphabetic", "dy": -3}, "encoding": {"x": {"field": "mid", "type": "quantitative"}, "text": {"field": "s"}}}
  ]}
]
}
]
}
]
}
